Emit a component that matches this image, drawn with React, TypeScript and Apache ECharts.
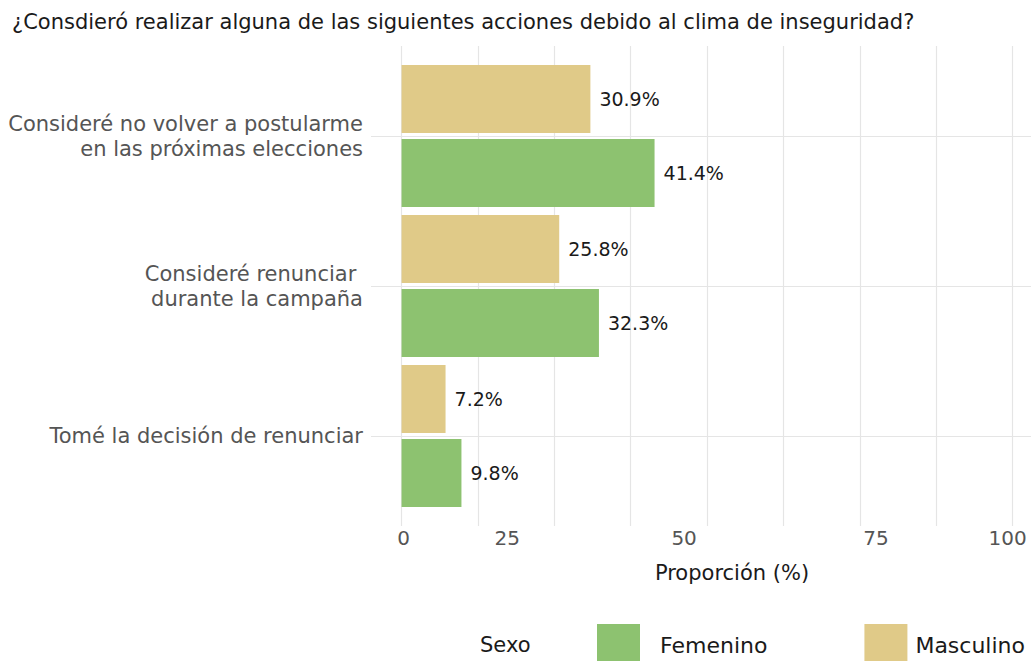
import React, { useEffect, useRef } from "react";
import * as echarts from "echarts";

const titleText = "¿Consdieró realizar alguna de las siguientes acciones debido al clima de inseguridad?";
const categories = [
  "Consideré no volver a postularme\nen las próximas elecciones",
  "Consideré renunciar \ndurante la campaña",
  "Tomé la decisión de renunciar",
];
const masculino = [30.9, 25.8, 7.2];
const femenino = [41.4, 32.3, 9.8];
const legendNames = ["Femenino", "Masculino"];
const xTickLabels = [0, 25, 50, 75, 100];
const xGridValues = [0, 12.5, 25, 37.5, 50, 62.5, 75, 87.5, 100];
const yGridValues = [1, 2, 3];
const axisTitle = "Proporción (%)";
const legendTitle = "Sexo";

const FONT = "DejaVu Sans";
const GREEN = "#8DC270";
const YELLOW = "#E0CA88";
const GRID_COLOR = "#E5E5E5";
const labelShift: Record<string, number> = { "0": 2, "25": -47, "50": -23, "75": 16, "100": -5 };

export default function App() {
  const ref = useRef<HTMLDivElement>(null);
  useEffect(() => {
    if (!ref.current) return;
    const chart = echarts.init(ref.current, null, { renderer: "svg" });
    const rich: Record<string, any> = {};
    xTickLabels.forEach((v) => {
      const d = labelShift[String(v)] || 0;
      rich["t" + v] = {
        fontSize: 20,
        color: "#555555",
        fontFamily: FONT,
        padding: d >= 0 ? [0, 0, 0, 2 * d] : [0, -2 * d, 0, 0],
      };
    });
    const barLabel = {
      show: true,
      position: "right",
      distance: 9,
      fontSize: 19,
      color: "#1a1a1a",
      fontFamily: FONT,
      formatter: (p: any) => p.value.toFixed(1) + "%",
    };
    const option: any = {
      animation: false,
      textStyle: { fontFamily: FONT },
      grid: [
        { left: 371, right: 0, top: 46, height: 480 },
        { left: 371, right: 0, top: 61, height: 450 },
      ],
      xAxis: [
        {
          type: "value",
          gridIndex: 0,
          min: -5,
          max: 103,
          axisLine: { show: false },
          axisTick: { show: false, customValues: xGridValues },
          splitLine: { show: true, lineStyle: { color: GRID_COLOR, width: 1.2 } },
          axisLabel: {
            customValues: xTickLabels,
            margin: 2,
            formatter: (v: number) => `{t${v}|${v}}`,
            rich,
          },
        },
        {
          type: "value",
          gridIndex: 1,
          min: -5,
          max: 103,
          show: false,
          splitLine: { show: false },
        },
      ],
      yAxis: [
        {
          type: "value",
          gridIndex: 0,
          min: 0.4,
          max: 3.6,
          inverse: true,
          axisLine: { show: false },
          axisTick: { show: false, customValues: yGridValues },
          axisLabel: { show: false },
          splitLine: { show: true, lineStyle: { color: GRID_COLOR, width: 1.2 } },
        },
        {
          type: "category",
          gridIndex: 1,
          data: categories,
          inverse: true,
          axisLine: { show: false },
          axisTick: { show: false },
          splitLine: { show: false },
          axisLabel: {
            fontSize: 21,
            lineHeight: 25,
            color: "#555555",
            margin: 8,
            fontFamily: FONT,
          },
        },
      ],
      legend: {
        data: legendNames,
        left: 597,
        top: 624,
        width: 900,
        padding: 0,
        itemWidth: 43,
        itemHeight: 43,
        itemGap: 97,
        icon: "rect",
        formatter: (name: string) => (name === "Femenino" ? `{f|${name}}` : `{m|${name}}`),
        textStyle: {
          fontSize: 22,
          color: "#1a1a1a",
          fontFamily: FONT,
          rich: {
            f: { fontSize: 22, color: "#1a1a1a", fontFamily: FONT, padding: [0, 0, 0, 15] },
            m: { fontSize: 22, color: "#1a1a1a", fontFamily: FONT, padding: [0, 0, 0, 3] },
          },
        },
      },
      series: [
        {
          name: "Masculino",
          type: "bar",
          xAxisIndex: 1,
          yAxisIndex: 1,
          data: masculino,
          barWidth: 68,
          barGap: "9%",
          itemStyle: { color: YELLOW },
          label: barLabel,
        },
        {
          name: "Femenino",
          type: "bar",
          xAxisIndex: 1,
          yAxisIndex: 1,
          data: femenino,
          barWidth: 68,
          barGap: "9%",
          itemStyle: { color: GREEN },
          label: barLabel,
        },
      ],
      graphic: [
        {
          type: "text",
          x: 12,
          y: 22,
          style: { text: titleText, fontSize: 21, fill: "#1a1a1a", fontFamily: FONT, verticalAlign: "middle" },
        },
        {
          type: "text",
          x: 732,
          y: 573,
          style: { text: axisTitle, fontSize: 21, fill: "#1a1a1a", fontFamily: FONT, align: "center", verticalAlign: "middle" },
        },
        {
          type: "text",
          x: 480,
          y: 645,
          style: { text: legendTitle, fontSize: 21, fill: "#1a1a1a", fontFamily: FONT, verticalAlign: "middle" },
        },
      ],
    };
    chart.setOption(option);
    return () => chart.dispose();
  }, []);
  return (
    <div
      ref={ref}
      style={{ position: "fixed", left: 0, top: 0, width: 1031, height: 661, background: "#ffffff" }}
    />
  );
}
